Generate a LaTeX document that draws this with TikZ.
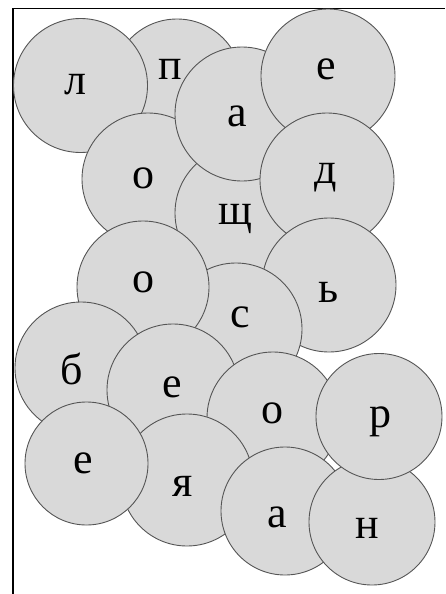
\documentclass[tikz,border=0pt]{standalone}
\usepackage{fontspec}
\setmainfont{Liberation Serif}
\definecolor{ballgray}{HTML}{D9D9D9}
\definecolor{rimgray}{HTML}{555555}

\begin{document}
\begin{tikzpicture}[x=1pt, y=-1pt,
    ball/.style={circle, draw=rimgray, fill=ballgray, line width=0.9pt, inner sep=0pt},
    glyph/.style={inner sep=0pt, font=\fontsize{44}{44}\selectfont}]
  \useasboundingbox (0,0) rectangle (445,594);

  % Frame (left and top edges only)
  \draw[line width=1.8pt] (13,594) -- (13,8.5) -- (445,8.5);

  % Balls, back to front
  \node[ball, minimum size=130pt] (p) at (177,84) {};
  \node[ball, minimum size=134pt] (l) at (80.5,85.5) {};
  \node[ball, minimum size=132pt] (o1) at (148,179) {};
  \node[ball, minimum size=134pt] (shch) at (242,213) {};
  \node[ball, minimum size=134pt] (a1) at (242,114) {};
  \node[ball, minimum size=134pt] (e1) at (328,76) {};
  \node[ball, minimum size=134pt] (d) at (327,180) {};
  \node[ball, minimum size=134pt] (soft) at (329,285) {};
  \node[ball, minimum size=132pt] (s) at (236,329) {};
  \node[ball, minimum size=132pt] (o2) at (143,287) {};
  \node[ball, minimum size=132pt] (b) at (81,368) {};
  \node[ball, minimum size=132pt] (e2) at (173,390) {};
  \node[ball, minimum size=132pt] (o3) at (273,418) {};
  \node[ball, minimum size=132pt] (ya) at (187,480) {};
  \node[ball, minimum size=123pt] (e3) at (86.5,463.5) {};
  \node[ball, minimum size=128pt] (a2) at (285,511) {};
  \node[ball, minimum size=126pt] (n) at (372,522) {};
  \node[ball, minimum size=126pt] (r) at (379,416.5) {};

  % Letters
  \node[glyph] (tl) at (75,85) {л};
  \node[glyph] (tp) at (170,69) {п};
  \node[glyph] (ta1) at (237,116) {а};
  \node[glyph] (te1) at (326,69) {е};
  \node[glyph] (to1) at (143,178) {о};
  \node[glyph] (td) at (326,178) {д};
  \node[glyph] (tshch) at (235,219) {щ};
  \node[glyph] (to2) at (143,282) {о};
  \node[glyph] (tsoft) at (329,292) {ь};
  \node[glyph] (ts) at (240,317) {с};
  \node[glyph] (tb) at (72,369) {б};
  \node[glyph] (te2) at (172,387) {е};
  \node[glyph] (to3) at (272,413) {о};
  \node[glyph] (tr) at (380,422) {р};
  \node[glyph] (te3) at (83,463) {е};
  \node[glyph] (tya) at (183,486) {я};
  \node[glyph] (ta2) at (277,517) {а};
  \node[glyph] (tn) at (367,528) {н};
\end{tikzpicture}
\end{document}
